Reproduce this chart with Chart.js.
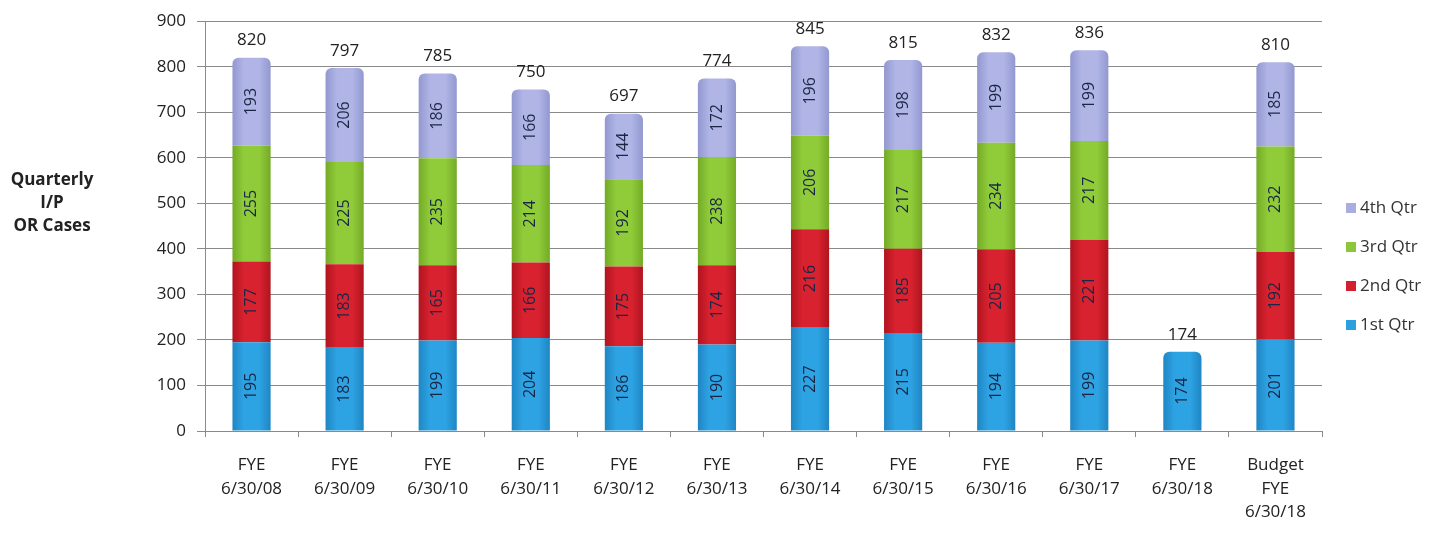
<!DOCTYPE html>
<html>
<head>
<meta charset="utf-8">
<script src="https://cdn.jsdelivr.net/npm/chart.js@4/dist/chart.umd.min.js"></script>
<style>
  html, body { margin: 0; padding: 0; background: #fff; }
  #wrap { width: 1442px; height: 538px; }
</style>
</head>
<body>
<div id="wrap"><canvas id="cases" width="1442" height="538"></canvas></div>
<script>
// fiscal years shown along the bottom (multi-line labels)
var years = [
  ['FYE', '6/30/08'], ['FYE', '6/30/09'], ['FYE', '6/30/10'], ['FYE', '6/30/11'],
  ['FYE', '6/30/12'], ['FYE', '6/30/13'], ['FYE', '6/30/14'], ['FYE', '6/30/15'],
  ['FYE', '6/30/16'], ['FYE', '6/30/17'], ['FYE', '6/30/18'], ['Budget', 'FYE', '6/30/18']
];

// inpatient OR cases per quarter
var qtr1 = [195, 183, 199, 204, 186, 190, 227, 215, 194, 199, 174, 201];
var qtr2 = [177, 183, 165, 166, 175, 174, 216, 185, 205, 221, null, 192];
var qtr3 = [255, 225, 235, 214, 192, 238, 206, 217, 234, 217, null, 232];
var qtr4 = [193, 206, 186, 166, 144, 172, 196, 198, 199, 199, null, 185];

var yTicks = [0, 100, 200, 300, 400, 500, 600, 700, 800, 900];

var FONT = '"Open Sans", "DejaVu Sans", sans-serif';
var BAR_PCT = 0.41;

// horizontal shading so the bars look a bit rounded
var shade = function(base, edge) {
  return function(ctx) {
    var chart = ctx.chart;
    if (!chart.chartArea || !chart.scales.x) return base;
    var x = chart.scales.x.getPixelForValue(ctx.dataIndex);
    var half = chart.scales.x.width / years.length * BAR_PCT / 2;
    var g = chart.ctx.createLinearGradient(x - half, 0, x + half, 0);
    g.addColorStop(0, edge);
    g.addColorStop(0.3, base);
    g.addColorStop(0.7, base);
    g.addColorStop(1, edge);
    return g;
  };
};

var allSeries = [qtr1, qtr2, qtr3, qtr4];

// only round the top of the topmost segment
var topRound = function(ctx) {
  var i = ctx.dataIndex;
  for (var d = allSeries.length - 1; d >= 0; d--) {
    if (allSeries[d][i] != null) {
      return d === ctx.datasetIndex ? { topLeft: 6, topRight: 6, bottomLeft: 0, bottomRight: 0 } : 0;
    }
  }
  return 0;
};

var totals = years.map(function(y, i) {
  var t = 0;
  allSeries.forEach(function(s) { if (s[i] != null) t += s[i]; });
  return t;
});

var legendItems = [
  { text: '4th Qtr', color: '#a9aee2' },
  { text: '3rd Qtr', color: '#8cc63a' },
  { text: '2nd Qtr', color: '#d3202f' },
  { text: '1st Qtr', color: '#2b9fe0' }
];

var labelsPlugin = {
  id: 'caseLabels',
  afterDatasetsDraw: function(chart) {
    var c = chart.ctx;
    c.save();
    // values inside each segment, rotated
    c.font = '16px ' + FONT;
    c.fillStyle = '#1b2644';
    c.textAlign = 'center';
    c.textBaseline = 'middle';
    chart.data.datasets.forEach(function(ds, di) {
      var meta = chart.getDatasetMeta(di);
      meta.data.forEach(function(bar, i) {
        if (ds.data[i] == null) return;
        var mid = (bar.y + bar.base) / 2;
        c.save();
        c.translate(bar.x, mid);
        c.rotate(-Math.PI / 2);
        c.fillText(ds.data[i], 0, 0);
        c.restore();
      });
    });
    // totals above each stack
    c.font = '17px ' + FONT;
    c.fillStyle = '#222';
    var y = chart.scales.y;
    var x = chart.scales.x;
    totals.forEach(function(t, i) {
      c.fillText(t, x.getPixelForValue(i), y.getPixelForValue(t) - 17);
    });

    // axis title on the left
    c.font = 'bold 17px ' + FONT;
    c.fillStyle = '#222';
    ['Quarterly', 'I/P', 'OR Cases'].forEach(function(line, k) {
      c.fillText(line, 52, 180 + k * 23);
    });

    // legend
    c.textAlign = 'left';
    c.font = '17px ' + FONT;
    legendItems.forEach(function(item, k) {
      var ly = 208 + k * 39;
      c.fillStyle = item.color;
      c.fillRect(1346, ly - 5, 10, 10);
      c.fillStyle = '#333';
      c.fillText(item.text, 1360, ly);
    });
    c.restore();
  }
};

var config = {
  type: 'bar',
  data: {
    labels: years,
    datasets: [
      { label: '1st Qtr', data: qtr1, backgroundColor: shade('#2ea3e3', '#1f86c4'), borderRadius: topRound, borderSkipped: false },
      { label: '2nd Qtr', data: qtr2, backgroundColor: shade('#d8222f', '#b0141f'), borderRadius: topRound, borderSkipped: false },
      { label: '3rd Qtr', data: qtr3, backgroundColor: shade('#90cc3a', '#74aa26'), borderRadius: topRound, borderSkipped: false },
      { label: '4th Qtr', data: qtr4, backgroundColor: shade('#b0b5e6', '#9298d0'), borderRadius: topRound, borderSkipped: false }
    ]
  },
  options: {
    responsive: false,
    animation: false,
    layout: { padding: { top: 16, right: 120, left: 0, bottom: 0 } },
    datasets: { bar: { categoryPercentage: 1, barPercentage: BAR_PCT } },
    plugins: {
      legend: { display: false },
      tooltip: { enabled: false }
    },
    scales: {
      x: {
        stacked: true,
        offset: true,
        afterFit: function(scale) { scale.height = 107; },
        grid: { offset: true, drawOnChartArea: false, color: '#8a8a8a', tickLength: 6 },
        border: { color: '#8a8a8a' },
        ticks: { color: '#222', padding: 16, font: { family: FONT, size: 17, lineHeight: 1.4 }, maxRotation: 0, autoSkip: false }
      },
      y: {
        stacked: true,
        min: 0,
        max: 900,
        afterFit: function(scale) { scale.width = 205; },
        afterBuildTicks: function(scale) { scale.ticks = yTicks.map(function(v) { return { value: v }; }); },
        grid: { color: '#8a8a8a', tickLength: 8 },
        border: { color: '#8a8a8a' },
        ticks: { color: '#222', padding: 11, font: { family: FONT, size: 17 } }
      }
    }
  },
  plugins: [labelsPlugin]
};

var ctx = document.getElementById('cases').getContext('2d');
window.casesChart = new Chart(ctx, config);
</script>
</body>
</html>
